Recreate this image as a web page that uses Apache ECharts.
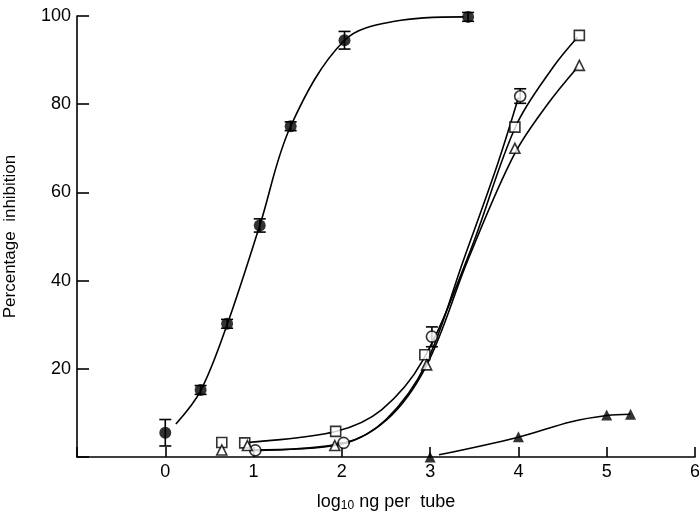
<!DOCTYPE html>
<html>
<head>
<meta charset="utf-8">
<script src="https://cdn.jsdelivr.net/npm/echarts@6/dist/echarts.min.js"></script>
<style>
  html, body { margin: 0; padding: 0; background: #fff; }
</style>
</head>
<body>
<div id="inhibition" style="width:699px;height:516px"></div>
<script>
// measured points (log10 ng per tube, % inhibition)
var fcX = [0, 0.4, 0.7, 1.07, 1.42, 2.03, 3.43];
var fcY = [5.5, 15.2, 30.2, 52.5, 75, 94.5, 99.8];
var fcLo = [2.5, 14.2, 29.2, 51, 74, 92.5, 98.8];
var fcHi = [8.5, 16.2, 31.2, 54, 76, 96.5, 100.8];

var ocX = [1.02, 2.02, 3.02, 4.02];
var ocY = [1.5, 3.2, 27.3, 81.8];
var ocLo = [1.5, 3.2, 25, 80.2];
var ocHi = [1.5, 3.2, 29.5, 83.5];

var sqX = [0.64, 0.9, 1.93, 2.94, 3.96, 4.69];
var sqY = [3.3, 3.2, 5.8, 23.2, 74.8, 95.6];

var trX = [0.64, 0.93, 1.92, 2.96, 3.96, 4.69];
var trY = [1.6, 2.6, 2.6, 20.9, 70, 88.8];

var ftX = [3, 4, 5, 5.27];
var ftY = [0, 4.6, 9.5, 9.7];

// fitted curves
var fcCurveX = [0.12, 0.4, 0.7, 1.07, 1.42, 2.03, 2.6, 3.38];
var fcCurveY = [7.5, 15, 30, 52.5, 75, 94.5, 98.8, 99.8];
var sqCurveX = [0.93, 1.93, 2.45, 2.92, 3.46, 3.97, 4.4, 4.67];
var sqCurveY = [3.3, 5.8, 10.7, 22, 47, 75, 88.6, 95.2];
var ocCurveX = [1.05, 2.03, 2.5, 2.95, 3.38, 3.77, 4.0];
var ocCurveY = [1.5, 3.2, 8.5, 21, 44.8, 66.8, 81.5];
var trCurveX = [1.0, 1.92, 2.5, 2.96, 3.43, 3.95, 4.33, 4.67];
var trCurveY = [1.6, 2.6, 8.3, 20.8, 44.8, 68.5, 80, 88.4];
var ftCurveX = [3.1, 4.0, 4.6, 5.0, 5.27];
var ftCurveY = [0.5, 4.5, 8.0, 9.4, 9.7];

var xTicks = [0, 1, 2, 3, 4, 5, 6];
var yTicks = [20, 40, 60, 80, 100];

function pairs(xs, ys) {
  return xs.map(function (x, i) { return [x, ys[i]]; });
}
function bars(xs, lo, hi) {
  return xs.map(function (x, i) { return [x, lo[i], hi[i]]; });
}

var myChart = echarts.init(document.getElementById('inhibition'));

function curve(xs, ys) {
  return {
    type: 'line',
    data: pairs(xs, ys),
    smooth: 0.35,
    showSymbol: false,
    silent: true,
    lineStyle: { color: '#000', width: 1.6 },
    z: 2
  };
}

function marks(xs, ys, symbol, size, filled) {
  return {
    type: 'scatter',
    data: pairs(xs, ys),
    symbol: symbol,
    symbolSize: size,
    itemStyle: {
      color: filled ? '#000' : '#fff',
      borderColor: '#000',
      borderWidth: filled ? 0 : 1.6
    },
    z: 4
  };
}

function errBars(data) {
  return {
    type: 'custom',
    data: data,
    z: 3,
    renderItem: function (params, api) {
      var x = api.value(0);
      var lo = api.coord([x, api.value(1)]);
      var hi = api.coord([x, api.value(2)]);
      var w = 6;
      var st = { stroke: '#000', lineWidth: 1.6 };
      return {
        type: 'group',
        children: [
          { type: 'line', shape: { x1: lo[0], y1: lo[1], x2: hi[0], y2: hi[1] }, style: st },
          { type: 'line', shape: { x1: lo[0] - w, y1: lo[1], x2: lo[0] + w, y2: lo[1] }, style: st },
          { type: 'line', shape: { x1: hi[0] - w, y1: hi[1], x2: hi[0] + w, y2: hi[1] }, style: st }
        ]
      };
    }
  };
}

var option = {
  backgroundColor: '#fff',
  animation: false,
  grid: { left: 77, right: 4, top: 16, bottom: 59, containLabel: false, outerBoundsMode: 'none' },
  xAxis: {
    type: 'value',
    min: -1,
    max: 6,
    interval: 1,
    name: '{a|log}{s|10}{a| ng per  tube}',
    nameLocation: 'middle',
    nameGap: 36,
    nameTextStyle: {
      rich: {
        a: { fontFamily: 'Liberation Sans', fontSize: 18, color: '#000' },
        s: { fontFamily: 'Liberation Sans', fontSize: 12, color: '#000', verticalAlign: 'bottom', padding: [7, 0, 0, 0] }
      }
    },
    axisLine: { onZero: false, lineStyle: { color: '#000', width: 1.6 } },
    axisTick: { inside: true, length: 10, lineStyle: { color: '#000', width: 1.6 } },
    axisLabel: {
      margin: 6,
      fontFamily: 'Liberation Sans',
      fontSize: 18,
      color: '#000',
      formatter: function (v) { return xTicks.indexOf(v) >= 0 ? String(v) : ''; }
    },
    splitLine: { show: false }
  },
  yAxis: {
    type: 'value',
    min: 0,
    max: 100,
    interval: 20,
    name: 'Percentage  inhibition',
    nameLocation: 'middle',
    nameGap: 58,
    nameTextStyle: { fontFamily: 'Liberation Sans', fontSize: 17, color: '#000' },
    axisLine: { show: true, onZero: false, lineStyle: { color: '#000', width: 1.6 } },
    axisTick: { inside: true, length: 12, lineStyle: { color: '#000', width: 1.6 } },
    axisLabel: {
      margin: 6,
      fontFamily: 'Liberation Sans',
      fontSize: 18,
      color: '#000',
      formatter: function (v) { return yTicks.indexOf(v) >= 0 ? String(v) : ''; }
    },
    splitLine: { show: false }
  },
  series: [
    curve(fcCurveX, fcCurveY),
    curve(sqCurveX, sqCurveY),
    curve(ocCurveX, ocCurveY),
    curve(trCurveX, trCurveY),
    curve(ftCurveX, ftCurveY),
    errBars(bars(fcX, fcLo, fcHi)),
    errBars(bars(ocX, ocLo, ocHi)),
    marks(fcX, fcY, 'circle', 12, true),
    marks(ocX, ocY, 'circle', 11, false),
    marks(sqX, sqY, 'rect', 10, false),
    marks(trX, trY, 'triangle', 10, false),
    marks(ftX, ftY, 'triangle', 11, true)
  ]
};

myChart.setOption(option);
</script>
</body>
</html>
